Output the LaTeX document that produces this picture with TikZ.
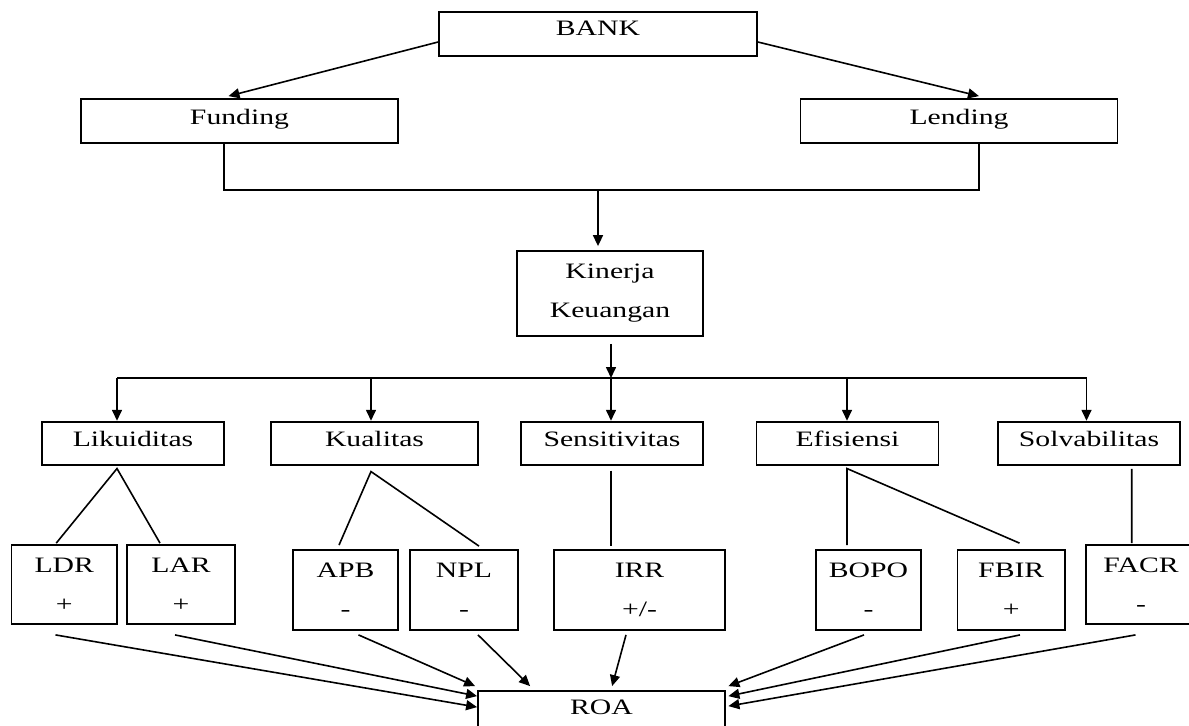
\documentclass[tikz,border=0pt]{standalone}
\usepackage{fontspec}
\setmainfont[FakeStretch=1.35]{Liberation Serif}
\usetikzlibrary{arrows.meta,calc}

\begin{document}
\begin{tikzpicture}[x=0.5pt,y=0.5pt,yscale=-1,
		font=\fontsize{11}{19.5}\selectfont,
		box/.style={draw,line width=0.9pt,inner sep=0pt},
		head/.style={box,text height=12.5pt,text depth=9.15pt,minimum width=91pt},
		ind/.style={box,align=center,minimum height=40pt},
		conn/.style={line width=0.8pt},
		arr/.style={conn,-{Triangle[length=5.5pt,width=5pt]}}]
		\useasboundingbox (0,0) rectangle (1189,725);

		% top level
		\node [box,text height=11.5pt,text depth=10.5pt,minimum width=159pt] (bank) at (598,34) {BANK};
		\node [box,text height=12.5pt,text depth=9.5pt,minimum width=158.5pt] (funding) at (239.5,121) {Funding};
		\node [box,text height=12.5pt,text depth=9.5pt,minimum width=158.5pt] (lending) at (959,121) {Lending};
		\node [ind,minimum width=93pt,minimum height=42.5pt] (kinerja) at (610,293.5) {Kinerja\\Keuangan};

		% aspects
		\node [head] (likuid) at (133,443.3) {Likuiditas};
		\node [head,minimum width=103.5pt] (kualitas) at (374.5,443.3) {Kualitas};
		\node [head] (sensitiv) at (612,443.3) {Sensitivitas};
		\node [head] (efisiensi) at (847.5,443.3) {Efisiensi};
		\node [head] (solva) at (1089,443.3) {Solvabilitas};

		% ratios
		\node [ind,minimum width=52.75pt,minimum height=39.5pt] (ldr) at (64.25,584.5) {LDR\\+};
		\node [ind,minimum width=54pt,minimum height=39.5pt] (lar) at (181,584.5) {LAR\\+};
		\node [ind,minimum width=52.5pt] (apb) at (345.5,590) {APB\\-};
		\node [ind,minimum width=54pt] (npl) at (464,590) {NPL\\-};
		\node [ind,minimum width=85.5pt] (irr) at (639.5,590) {IRR\\+/-};
		\node [ind,minimum width=52.5pt] (bopo) at (868.5,590) {BOPO\\-};
		\node [ind,minimum width=53.75pt] (fbir) at (1011.25,590) {FBIR\\+};
		\node [ind,minimum width=55pt,minimum height=39.5pt] (facr) at (1141,584.5) {FACR\\-};

		\node [box,text height=11.75pt,text depth=12pt,minimum width=123.5pt] (roa) at (601.5,714.75) {ROA};

		% bank to funding / lending
		\draw [arr] ($(bank.west)+(0,8)$) -- ($(funding.north)+(-11,-2)$);
		\draw [arr] ($(bank.east)+(0,8)$) -- ($(lending.north)+(20,-2)$);
		\coordinate (join) at (598,190);
		\draw [conn] ($(funding.south)+(-15.5,0)$) |- (join) -| ($(lending.south)+(20,0)$);
		\draw [arr,shorten >=2pt] (join) -- (join |- kinerja.north);

		% kinerja to aspects
		\coordinate (hub) at (611,378);
		\draw [arr] ($(kinerja.south)+(1,7)$) -- (hub);
		\coordinate (t1) at ($(likuid.north)+(-16,0)$);
		\coordinate (t2) at ($(kualitas.north)+(-3.5,0)$);
		\coordinate (t3) at ($(sensitiv.north)+(-1,0)$);
		\coordinate (t4) at ($(efisiensi.north)+(-0.5,0)$);
		\coordinate (t5) at ($(solva.north)+(-2.5,0)$);
		\draw [conn] (t1 |- hub) -- (t5 |- hub);
		\draw [arr] (t1 |- hub) -- (t1);
		\draw [arr] (t2 |- hub) -- (t2);
		\draw [arr] (t3 |- hub) -- (t3);
		\draw [arr] (t4 |- hub) -- (t4);
		\draw [arr] (t5 |- hub) -- (t5);

		% aspects to ratios
		\coordinate (lk) at ($(likuid.south)+(-16,2.7)$);
		\draw [conn] ($(ldr.north)+(-8,-1)$) -- (lk) -- ($(lar.north)+(-21,-1)$);
		\coordinate (kq) at ($(kualitas.south)+(-3.5,5.7)$);
		\draw [conn] ($(apb.north)+(-6.5,-4)$) -- (kq) -- ($(npl.north)+(15,-3)$);
		\draw [conn] ($(sensitiv.south)+(-1,4.7)$) -- ($(irr.north)+(-28.5,-3)$);
		\coordinate (ef) at ($(efisiensi.south)+(-0.5,2.7)$);
		\draw [conn] ($(bopo.north)+(-21.5,-4)$) -- (ef) -- ($(fbir.north)+(8.25,-6)$);
		\draw [conn] ($(solva.south)+(42.7,3)$) -- ($(facr.north)+(-9.3,-1)$);

		% ratios to roa
		\draw [arr] ($(ldr.south)+(-8.75,10)$) -- ($(roa.north west)+(0,17)$);
		\draw [arr] ($(lar.south)+(-6,10)$) -- ($(roa.north west)+(0,6)$);
		\draw [arr] ($(apb.south)+(13,4)$) -- ($(roa.north west)+(-2,-4)$);
		\draw [arr] ($(npl.south)+(14,4)$) -- ($(roa.north west)+(53,-4)$);
		\draw [arr] ($(irr.south)+(-13.5,4)$) -- ($(roa.north west)+(135,-4)$);
		\draw [arr] ($(bopo.south)+(-4.5,4)$) -- ($(roa.north east)+(2.5,-4)$);
		\draw [arr] ($(fbir.south)+(8.75,4)$) -- ($(roa.north east)+(2.5,6)$);
		\draw [arr] ($(facr.south)+(-5.5,10)$) -- ($(roa.north east)+(2.5,16)$);
		\end{tikzpicture}
\end{document}
